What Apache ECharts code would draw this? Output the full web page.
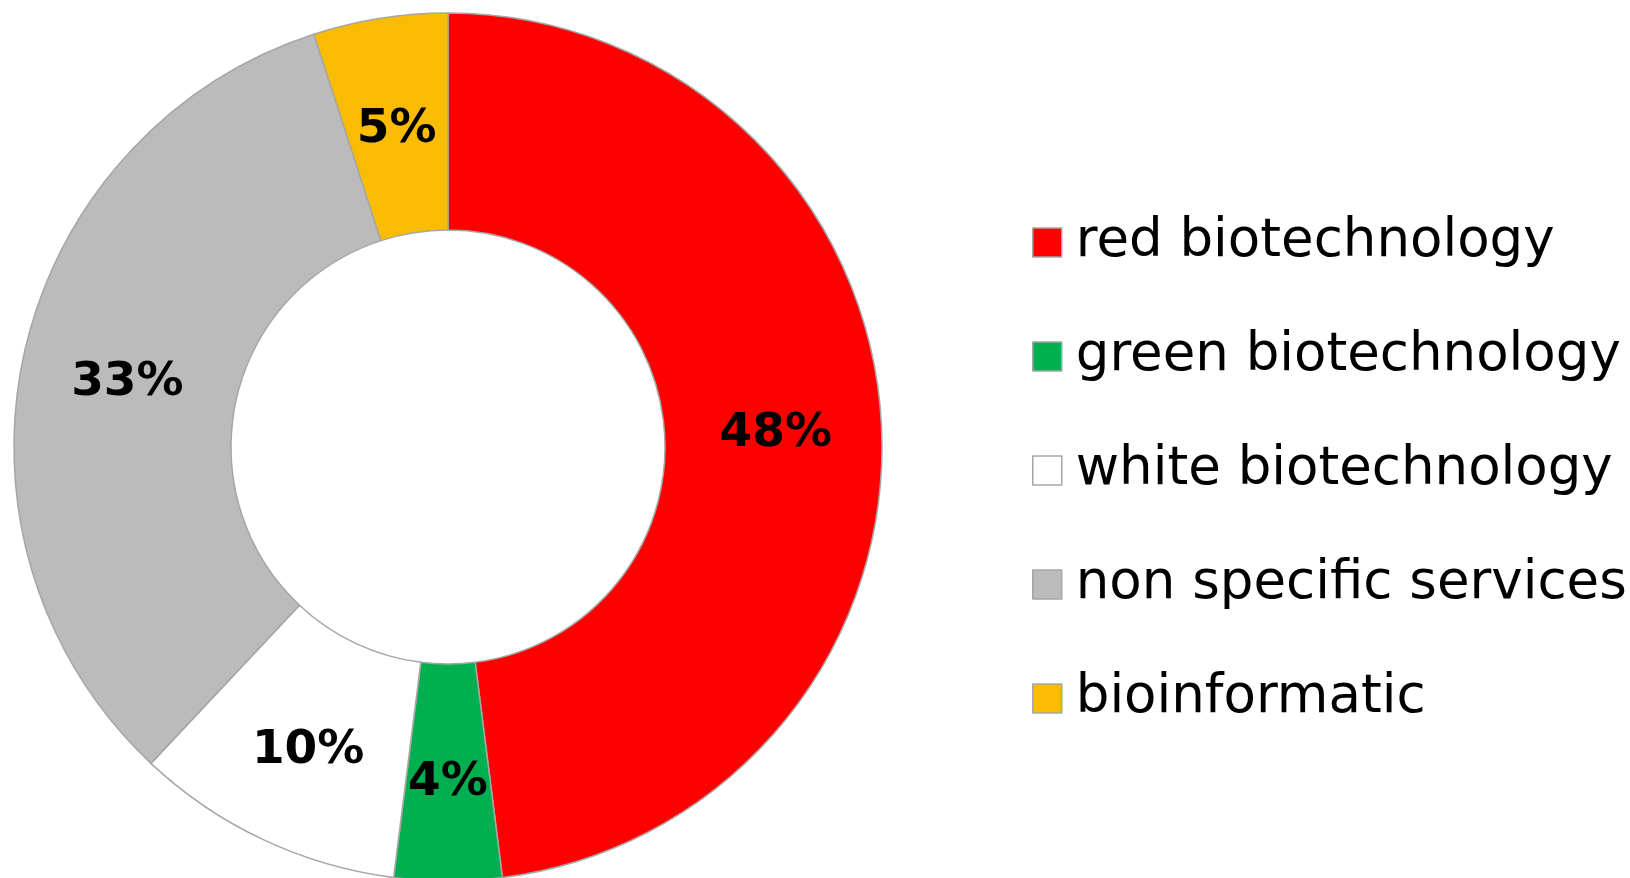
<!DOCTYPE html>
<html>
<head>
<meta charset="utf-8">
<script src="https://cdn.jsdelivr.net/npm/echarts@6/dist/echarts.min.js"></script>
<style>
  html, body { margin: 0; padding: 0; background: #fff; }
  #chart { width: 1630px; height: 878px; }
</style>
</head>
<body>
<div id="chart"></div>
<script>
// categories, in clockwise order starting at 12 o'clock
var categories = ['red biotechnology', 'green biotechnology', 'white biotechnology', 'non specific services', 'bioinformatic'];
var shares = [48, 4, 10, 33, 5];
var colors = ['#FF0000', '#00B050', '#FFFFFF', '#BBBBBB', '#F9BC00'];

var pieData = categories.map(function (name, i) {
  return { name: name, value: shares[i], itemStyle: { color: colors[i] } };
});

var chart = echarts.init(document.getElementById('chart'));
chart.setOption({
  animation: false,
  legend: {
    orient: 'vertical',
    left: 1027,
    top: 211,
    itemWidth: 29,
    itemHeight: 29,
    itemGap: 61,
    icon: 'rect',
    itemStyle: { borderColor: '#A6A6A6', borderWidth: 1.5 },
    textStyle: {
      fontFamily: 'DejaVu Sans',
      fontSize: 53,
      color: '#000',
      padding: [0, 0, 0, 9]
    },
    data: categories
  },
  series: [{
    type: 'pie',
    center: [448, 447],
    radius: [217, 434],
    startAngle: 90,
    clockwise: true,
    data: pieData,
    itemStyle: { borderColor: '#A6A6A6', borderWidth: 1.5 },
    label: {
      show: true,
      position: 'inside',
      formatter: '{c}%',
      fontFamily: 'DejaVu Sans',
      fontWeight: 'bold',
      fontSize: 47,
      color: '#000',
      offset: [0, 7]
    },
    labelLine: { show: false },
    emphasis: { disabled: true }
  }]
});
</script>
</body>
</html>
